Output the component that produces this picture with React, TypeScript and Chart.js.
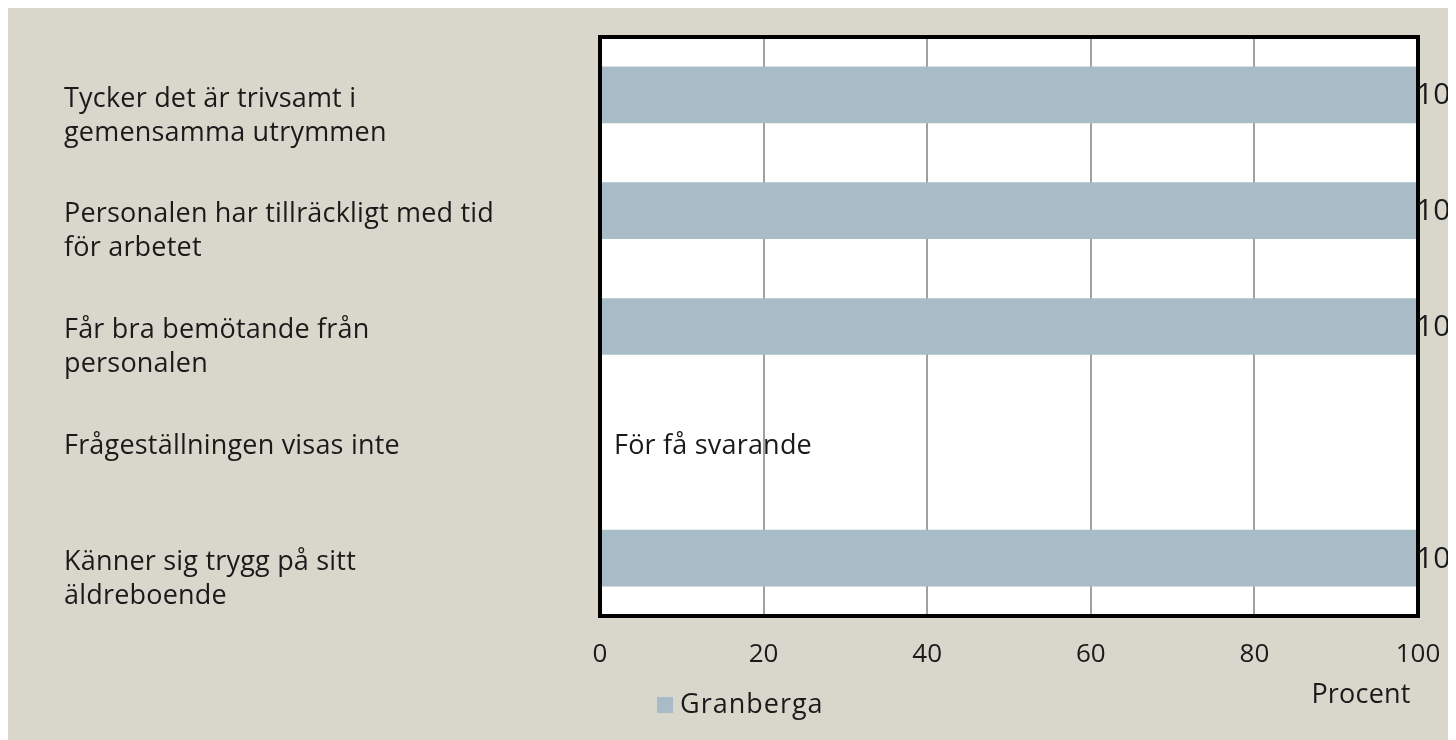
import React, { useEffect, useRef } from "react";
import { Chart, registerables } from "chart.js";

Chart.register(...registerables);

const categories: string[][] = [
  ["Tycker det är trivsamt i", "gemensamma utrymmen"],
  ["Personalen har tillräckligt med tid", "för arbetet"],
  ["Får bra bemötande från", "personalen"],
  ["Frågeställningen visas inte"],
  ["Känner sig trygg på sitt", "äldreboende"],
];
const values: (number | null)[] = [100, 100, 100, null, 100];
const xTicks = [0, 20, 40, 60, 80, 100];
const seriesName = "Granberga";
const noDataText = "För få svarande";
const axisTitle = "Procent";

const FONT = "'Open Sans', sans-serif";
const BG = "#d9d7cc";
const BAR = "#a7bcc7";
const TXT = "#1a1a1a";

export default function App() {
  const ref = useRef<HTMLCanvasElement | null>(null);
  useEffect(() => {
    document.documentElement.style.overflow = "hidden";
    document.body.style.overflow = "hidden";
    const canvas = ref.current!;
    const overlay = {
      id: "overlay",
      beforeDraw(chart: any) {
        const ctx = chart.ctx;
        const a = chart.chartArea;
        ctx.save();
        ctx.fillStyle = "#ffffff";
        ctx.fillRect(a.left, a.top, a.right - a.left, a.bottom - a.top);
        ctx.restore();
      },
      afterDatasetsDraw(chart: any) {
        const ctx = chart.ctx;
        const a = chart.chartArea;
        const y = chart.scales.y;
        const x = chart.scales.x;
        ctx.save();
        ctx.strokeStyle = "#000";
        ctx.lineWidth = 4;
        ctx.strokeRect(a.left, a.top, a.right - a.left, a.bottom - a.top);
        ctx.fillStyle = TXT;
        ctx.textBaseline = "middle";
        (ctx as any).letterSpacing = "0.2px";
        categories.forEach((lines, i) => {
          const cy = y.getPixelForValue(i);
          ctx.textAlign = "left";
          ctx.font = `27px ${FONT}`;
          lines.forEach((ln, k) => {
            ctx.fillText(ln, 56, cy + 4 + k * 34);
          });
          const v = values[i];
          if (v === null) {
            ctx.fillText(noDataText, a.left + 14, cy + 4);
          } else {
            ctx.font = `30px ${FONT}`;
            ctx.fillText(String(v), x.getPixelForValue(v) - 2, cy + 1);
          }
        });
        ctx.font = `27px ${FONT}`;
        ctx.textAlign = "center";
        ctx.fillText(axisTitle, 1353, 687);
        ctx.fillStyle = BAR;
        ctx.fillRect(649, 689, 16, 16);
        ctx.fillStyle = TXT;
        ctx.textAlign = "left";
        (ctx as any).letterSpacing = "1px";
        ctx.fillText(seriesName, 672, 697);
        ctx.restore();
      },
    };
    const chart = new Chart(canvas, {
      type: "bar",
      data: {
        labels: categories.map((c) => c.join(" ")),
        datasets: [
          {
            label: seriesName,
            data: values as any,
            backgroundColor: BAR,
            barPercentage: 0.49,
            categoryPercentage: 1,
          },
        ],
      },
      options: {
        indexAxis: "y",
        responsive: false,
        animation: false,
        layout: { padding: { left: 0, right: 38, top: 29, bottom: 0 } },
        plugins: { legend: { display: false }, tooltip: { enabled: false } },
        scales: {
          x: {
            min: 0,
            max: 100,
            afterBuildTicks: (s: any) => {
              s.ticks = xTicks.map((v) => ({ value: v }));
            },
            afterFit: (s: any) => {
              s.height = 124;
              s.paddingLeft = 0;
              s.paddingRight = 0;
            },
            border: { display: false },
            grid: { color: "#a0a0a0", lineWidth: 2, drawTicks: false },
            ticks: {
              color: TXT,
              font: { family: FONT, size: 26 },
              padding: 23,
            },
          },
          y: {
            afterFit: (s: any) => {
              s.width = 592;
            },
            border: { display: false },
            grid: { display: false },
            ticks: { display: false },
          },
        },
      },
      plugins: [overlay],
    });
    return () => chart.destroy();
  }, []);
  return (
    <canvas
      ref={ref}
      width={1448}
      height={732}
      style={{ display: "block", background: BG, width: 1448, height: 732 }}
    />
  );
}
